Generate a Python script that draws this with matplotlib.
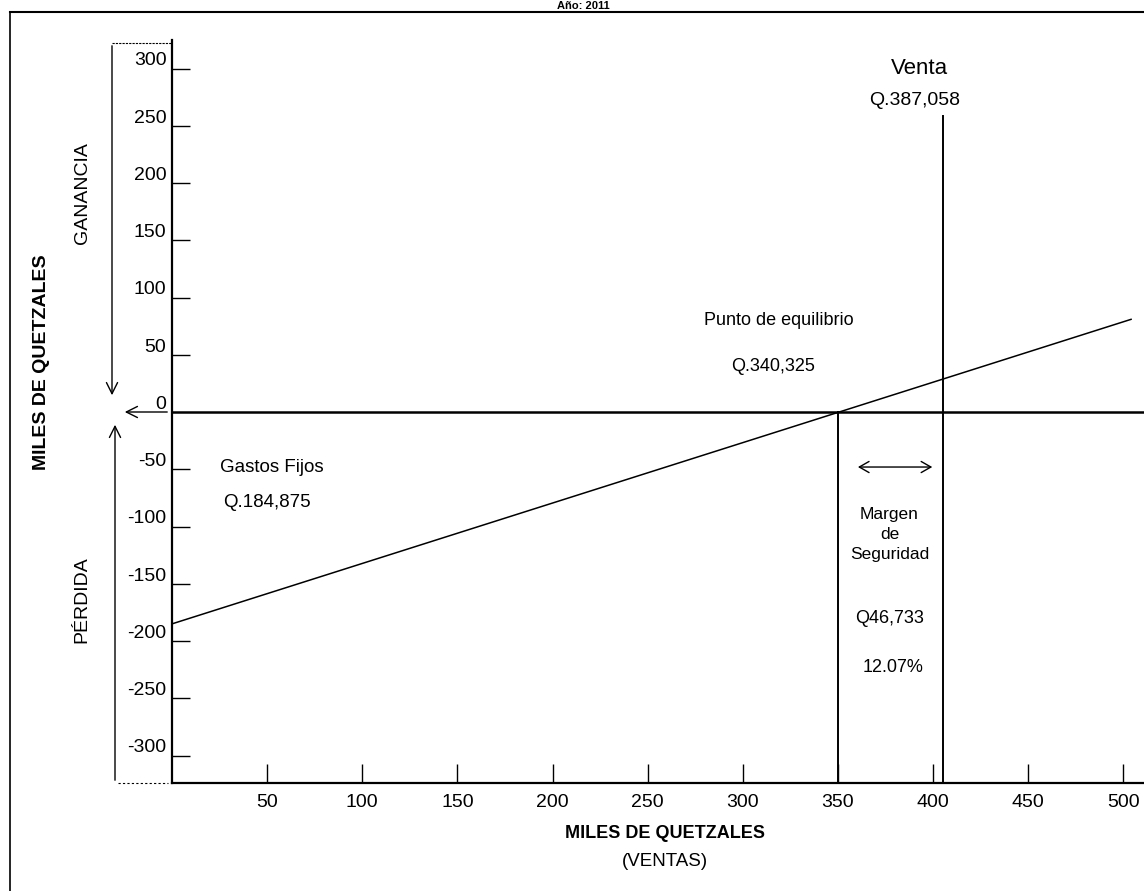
import matplotlib
matplotlib.use("Agg")
import matplotlib.pyplot as plt
from matplotlib.transforms import ScaledTranslation
from matplotlib.patches import FancyArrowPatch

# ---- data (in drawn axis units) ----
x_ticks = [50, 100, 150, 200, 250, 300, 350, 400, 450, 500]
y_ticks = [-300, -250, -200, -150, -100, -50, 0, 50, 100, 150, 200, 250, 300]
line_x = [0, 504]
line_y = [-185, 81]
breakeven_x = 350
sale_x = 405
sale_top = 259
margin_arrow = [359, 401]

FONT = ['Liberation Sans Narrow', 'Liberation Sans', 'DejaVu Sans']
plt.rcParams['font.family'] = FONT

W, H = 1144, 891
fig = plt.figure(figsize=(W / 100, H / 100), dpi=100)

def fx(px):
    return px / W

def fy(py):
    return 1 - py / H

ax = fig.add_axes([fx(172), fy(783), fx(1144) - fx(172), fy(40) - fy(783)])
ax.set_xlim(0, 510.8)
ax.set_ylim(-324, 325)
for s in ['top', 'right']:
    ax.spines[s].set_visible(False)
for s in ['left', 'bottom']:
    ax.spines[s].set_linewidth(1.6)
    ax.spines[s].set_color('black')

# ticks
ax.set_xticks(x_ticks)
ax.set_xticklabels([str(v) for v in x_ticks])
ax.tick_params(axis='x', direction='in', length=14, width=1.0, pad=8, labelsize=14)
ax.set_yticks(y_ticks)
ax.set_yticklabels([str(v) for v in y_ticks])
ax.tick_params(axis='y', direction='in', length=13, width=1.0, pad=4, labelsize=14)
for lab in ax.get_yticklabels():
    lab.set_transform(lab.get_transform() + ScaledTranslation(0, 7 / 72, fig.dpi_scale_trans))
ax.yaxis.get_major_ticks()[6].tick1line.set_visible(False)

# zero line
ax.axhline(0, color='black', lw=1.8, xmin=0, xmax=1)

# main line
ax.plot(line_x, line_y, color='black', lw=1.1)

# vertical lines
ax.plot([breakeven_x, breakeven_x], [0, -324], color='black', lw=1.4)
ax.plot([sale_x, sale_x], [-324, sale_top], color='black', lw=1.4)

# margin double arrow
arr = FancyArrowPatch((margin_arrow[0], -48), (margin_arrow[1], -48),
                      arrowstyle='<->,head_length=7,head_width=4', color='black',
                      lw=1.0, mutation_scale=1)
ax.add_patch(arr)

# texts
ax.text(sale_x - 12, 300, 'Venta', ha='center', va='center', fontsize=16)
ax.text(sale_x - 15, 272, 'Q.387,058', ha='center', va='center', fontsize=14)
ax.text(319, 80, 'Punto de equilibrio', ha='center', va='center', fontsize=13)
ax.text(316, 40, 'Q.340,325', ha='center', va='center', fontsize=13)
ax.text(25, -48, 'Gastos Fijos', ha='left', va='center', fontsize=13.5)
ax.text(27, -79, 'Q.184,875', ha='left', va='center', fontsize=13.5)
ax.text(377, -107, 'Margen\nde\nSeguridad', ha='center', va='center',
        fontsize=12.5, linespacing=1.4)
ax.text(377, -180, 'Q46,733', ha='center', va='center', fontsize=13)
ax.text(379, -223, '12.07%', ha='center', va='center', fontsize=13)

# axis labels (figure coordinates)
fig.text(fx(42), fy(362), 'MILES DE QUETZALES', rotation=90, ha='center',
         va='center', fontsize=14, fontweight='bold')
fig.text(fx(82), fy(193), 'GANANCIA', rotation=90, ha='center', va='center',
         fontsize=14)
fig.text(fx(82), fy(600), 'PÉRDIDA', rotation=90, ha='center', va='center',
         fontsize=14)
fig.text(fx(665), fy(833), 'MILES DE QUETZALES', ha='center', va='center',
         fontsize=13, fontweight='bold')
fig.text(fx(665), fy(862), '(VENTAS)', ha='center', va='center', fontsize=13.5)
fig.text(fx(583), fy(6), 'Año: 2011', ha='center', va='center', fontsize=8,
         fontweight='bold')

# left arrows (figure coordinates)
def farrow(p0, p1, style):
    a = FancyArrowPatch((fx(p0[0]), fy(p0[1])), (fx(p1[0]), fy(p1[1])),
                        transform=fig.transFigure, arrowstyle=style,
                        color='black', lw=1.0, mutation_scale=1)
    fig.patches.append(a)

farrow((112, 43), (112, 398), '->,head_length=8,head_width=4')
farrow((115, 783), (115, 422), '->,head_length=8,head_width=4')
farrow((170, 412), (122, 412), '->,head_length=8,head_width=4')
fig.lines.append(plt.Line2D([fx(112), fx(172)], [fy(43), fy(43)], transform=fig.transFigure,
                            color='black', lw=0.8, linestyle=(0, (2, 1))))
fig.lines.append(plt.Line2D([fx(118), fx(168)], [fy(783), fy(783)], transform=fig.transFigure,
                            color='black', lw=0.8, linestyle=(0, (2, 2))))

# outer frame
fig.lines.append(plt.Line2D([fx(10), fx(1144)], [fy(12), fy(12)], transform=fig.transFigure,
                            color='black', lw=1.5))
fig.lines.append(plt.Line2D([fx(10), fx(10)], [fy(12), fy(891)], transform=fig.transFigure,
                            color='black', lw=1.2))

fig.savefig('out.png', dpi=100)
